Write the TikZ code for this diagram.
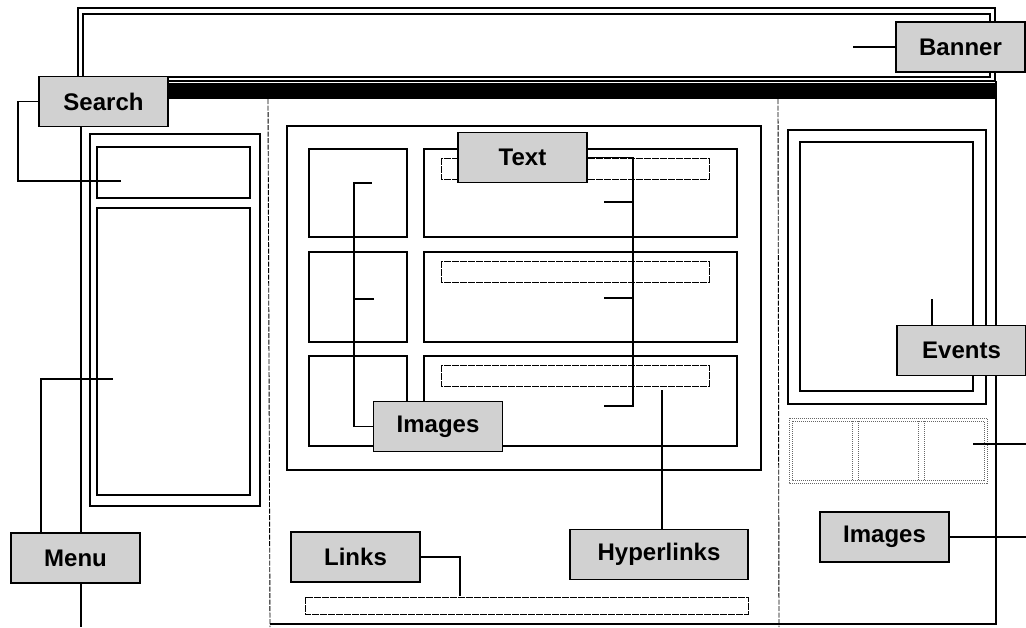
\documentclass[tikz,border=0pt]{standalone}
\usepackage{fontspec}
\setsansfont{Liberation Sans}
\usepackage{xcolor}

\begin{document}
\begin{tikzpicture}[x=1pt,y=-1pt,
    box/.style={draw, line width=2.2pt},
    thinbox/.style={draw, line width=0.8pt, dash pattern=on 7pt off 1pt},
    divider/.style={draw, line width=0.9pt, dash pattern=on 5pt off 1.5pt},
    stripbox/.style={draw=black!60, line width=1pt, densely dotted},
    lead/.style={draw, line width=1.4pt},
    tag/.style={draw, line width=1.8pt, fill=tagFill, minimum width=129pt, minimum height=50pt,
      inner sep=2pt, font=\sffamily\bfseries\fontsize{24}{28}\selectfont}]
  \colorlet{tagFill}{black!18}
  \useasboundingbox (0,0) rectangle (1026,627);
  \clip (0,0) rectangle (1026,627);
  % page frame and banner
  \draw[box] (78,8) rectangle (995,81);
  \draw[box, line width=1.5pt] (83,14) rectangle (990,77);
  \fill (78,83) rectangle (997,99);
  \draw[box] (81,99) -- (81,627);
  \draw[box] (996,81) -- (996,624) -- (270,624);
  \draw[divider] (268,99) -- (270,627);
  \draw[divider] (778,99) -- (779,627);
  % left column
  \draw[box, line width=1.6pt] (90,134) rectangle (260,506);
  \draw[box] (97,147) rectangle (250,198);
  \draw[box] (97,208) rectangle (250,495);
  % centre column
  \draw[box, line width=1.7pt] (287,126) rectangle (761,470);
  \foreach \top/\bot in {149/237, 252/342, 356/446} {
    \draw[box] (309,\top) rectangle (407,\bot);
    \draw[box] (424,\top) rectangle (737,\bot);
    \draw[thinbox] (441,\top+9) rectangle (709,\top+30);
  }
  \draw[thinbox] (305,597) rectangle (748,614);
  % right column
  \draw[box, line width=1.7pt] (788,130) rectangle (986,404);
  \draw[box] (800,142) rectangle (973,391);
  \draw[stripbox] (789,418) rectangle (987,483);
  \draw[stripbox] (792,421) rectangle (984,480);
  \foreach \xx in {852,858,918,924} {
    \draw[stripbox] (\xx,421) -- (\xx,480);
  }
  % points the leads go to
  \coordinate (srchEnd) at (121,181);
  \coordinate (menuEnd) at (113,379);
  \coordinate (menuFoot) at (41,533);
  \coordinate (txtSpine) at (633,406);
  \coordinate (txtTickA) at (604,202);
  \coordinate (txtTickB) at (604,298);
  \coordinate (txtTickC) at (604,406);
  \coordinate (imgTickA) at (372,183);
  \coordinate (imgTickB) at (374,299);
  \coordinate (imgSpine) at (354,183);
  \coordinate (hypEnd) at (662,390);
  \coordinate (lnkEnd) at (460,596);
  \coordinate (evtEnd) at (932,299);
  \coordinate (evtFoot) at (932,325);
  \coordinate (stripEnd) at (973,444);
  \coordinate (pageEdge) at (1026,444);
  \coordinate (bnrEnd) at (853,47);
  % leads
  \draw[lead] (menuFoot) |- (menuEnd);
  \draw[lead] (txtTickA) -- (txtTickA -| txtSpine);
  \draw[lead] (txtTickB) -- (txtTickB -| txtSpine);
  \draw[lead] (imgTickB) -- (imgTickB -| imgSpine);
  \draw[lead] (evtFoot) -- (evtEnd);
  \draw[lead] (stripEnd) -- (pageEdge);
  % labels
  \node[tag] (search) at (103.5,101.5) {Search};
  \node[tag] (menu) at (75.5,558) {Menu};
  \node[tag] (txt) at (522.5,157.5) {Text};
  \node[tag] (imgs) at (438,426.5) {Images};
  \node[tag, minimum width=178pt] (hyper) at (659,554.5) {Hyperlinks};
  \node[tag] (links) at (355.5,557) {Links};
  \node[tag] (events) at (961.5,350.5) {Events};
  \node[tag] (imgsR) at (884.5,537) {Images};
  \node[tag] (banner) at (960.5,47) {Banner};
  % leads that start at a label
  \draw[lead] (search.west) -- ++(-20,0) |- (srchEnd);
  \draw[lead] (txt.east) -| (txtSpine) -- (txtTickC);
  \draw[lead] (imgs.west) -| (imgSpine) -- (imgTickA);
  \draw[lead] (hyper.north -| hypEnd) -- (hypEnd);
  \draw[lead] (links.east) -| (lnkEnd);
  \draw[lead] (imgsR.east) -- (imgsR.east -| pageEdge);
  \draw[lead] (banner.west) -- (bnrEnd);
\end{tikzpicture}
\end{document}
